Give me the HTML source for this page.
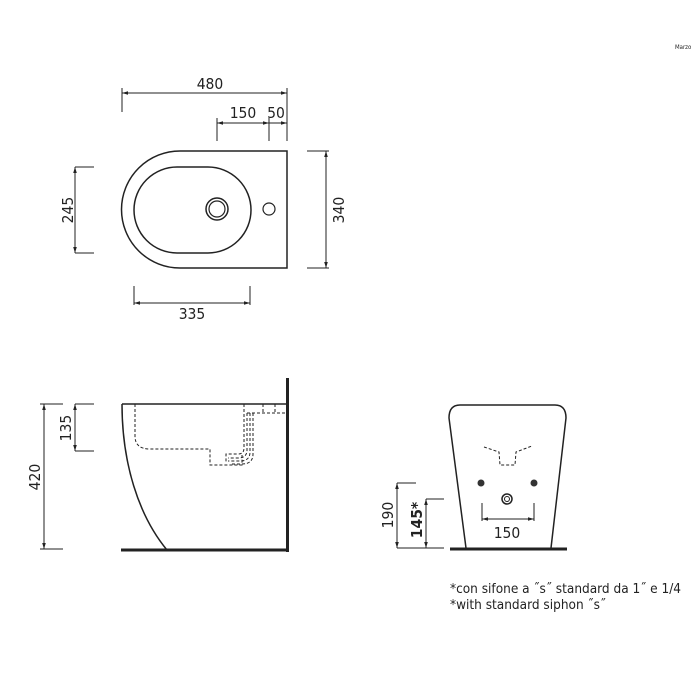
<!DOCTYPE html>
<html><head><style>
html,body{margin:0;padding:0;background:#fff;}
svg{display:block;}
text{font-family:"DejaVu Sans Condensed","Liberation Sans Narrow","Liberation Sans",sans-serif;fill:#222;}
</style></head><body>
<svg width="700" height="700" viewBox="0 0 700 700" xmlns="http://www.w3.org/2000/svg">
<defs>
<marker id="a" viewBox="0 0 10 10" refX="10" refY="5" markerWidth="6" markerHeight="6" orient="auto-start-reverse"><path d="M0,2 L10,5 L0,8 z" fill="#222"/></marker>
</defs>
<g stroke="#222" stroke-width="1" fill="none">
<line x1="122" y1="88" x2="122" y2="112"/>
<line x1="287" y1="88" x2="287" y2="141"/>
<line x1="122" y1="93" x2="287" y2="93" marker-start="url(#a)" marker-end="url(#a)"/>
<line x1="217" y1="118" x2="217" y2="141"/>
<line x1="269" y1="118" x2="269" y2="141"/>
<line x1="217" y1="123" x2="269" y2="123" marker-start="url(#a)" marker-end="url(#a)"/>
<line x1="269" y1="123" x2="287" y2="123" marker-end="url(#a)"/>
<line x1="75" y1="167" x2="94" y2="167"/>
<line x1="75" y1="253" x2="94" y2="253"/>
<line x1="75" y1="167" x2="75" y2="253" marker-start="url(#a)" marker-end="url(#a)"/>
<line x1="307" y1="151" x2="329" y2="151"/>
<line x1="307" y1="268" x2="329" y2="268"/>
<line x1="326" y1="151" x2="326" y2="268" marker-start="url(#a)" marker-end="url(#a)"/>
<line x1="134" y1="286" x2="134" y2="305"/>
<line x1="250" y1="286" x2="250" y2="305"/>
<line x1="134" y1="303" x2="250" y2="303" marker-start="url(#a)" marker-end="url(#a)"/>
<path d="M287,151 H180 A58.5,58.5 0 0 0 180,268 H287 Z" stroke-width="1.5"/>
<rect x="134" y="167" width="117" height="86" rx="43" ry="43" stroke-width="1.5"/>
<circle cx="217" cy="209" r="11" stroke-width="1.5"/>
<circle cx="217" cy="209" r="8" stroke-width="1.2"/>
<circle cx="269" cy="209" r="6" stroke-width="1.2"/>
<line x1="40" y1="404" x2="63" y2="404"/>
<line x1="40" y1="549" x2="63" y2="549"/>
<line x1="44" y1="404" x2="44" y2="549" marker-start="url(#a)" marker-end="url(#a)"/>
<line x1="75" y1="404" x2="94" y2="404"/>
<line x1="75" y1="451" x2="94" y2="451"/>
<line x1="75" y1="404" x2="75" y2="451" marker-start="url(#a)" marker-end="url(#a)"/>
<line x1="122" y1="404" x2="287" y2="404" stroke-width="1.5"/>
<line x1="287.5" y1="378" x2="287.5" y2="552" stroke-width="3"/>
<line x1="121" y1="550" x2="289" y2="550" stroke-width="3"/>
<path d="M122,404 C122,462 138,515 167,550" stroke-width="1.5"/>
<g stroke-dasharray="3,2">
<path d="M135,404 V436 Q135,449 150,449 H210 V465 H242 V455"/>
<path d="M244,404 V448 Q244,454 238,454 H226 V462"/>
<path d="M247,413 V450 Q247,458 238,458 H228"/>
<path d="M250,413 V452 Q250,461 240,461 H228"/>
<path d="M253,413 V454 Q253,464 242,464 H230"/>
<path d="M247,413 H287"/>
<path d="M263,404 V413"/>
<path d="M275,404 V413"/>
</g>
<path d="M466,548 L449,418 Q449,405 460,405 H555 Q566,405 566,418 L551,548" stroke-width="1.5"/>
<line x1="450" y1="549" x2="567" y2="549" stroke-width="3"/>
<path d="M484,447 L499,452 L500,465 L515,465 L516,452 L532,446" stroke-dasharray="3,2"/>
<line x1="482" y1="503" x2="482" y2="521"/>
<line x1="534" y1="503" x2="534" y2="521"/>
<line x1="482" y1="519" x2="534" y2="519" marker-start="url(#a)" marker-end="url(#a)"/>
<line x1="397" y1="483" x2="416" y2="483"/>
<line x1="397" y1="548" x2="444" y2="548"/>
<line x1="397" y1="483" x2="397" y2="548" marker-start="url(#a)" marker-end="url(#a)"/>
<line x1="426" y1="499" x2="444" y2="499"/>
<line x1="426" y1="499" x2="426" y2="548" marker-start="url(#a)" marker-end="url(#a)"/>
<circle cx="507" cy="499" r="5" stroke-width="1.5"/>
<circle cx="507" cy="499" r="2.5"/>
</g>
<circle cx="481" cy="483" r="3.5" fill="#333"/>
<circle cx="534" cy="483" r="3.5" fill="#333"/>
<g font-size="15.5">
<text x="210" y="89" text-anchor="middle">480</text>
<text x="243" y="118" text-anchor="middle">150</text>
<text x="276" y="118" text-anchor="middle">50</text>
<text x="192" y="319" text-anchor="middle">335</text>
<text x="507" y="538" text-anchor="middle">150</text>
<text transform="translate(73,210) rotate(-90)" text-anchor="middle">245</text>
<text transform="translate(344,210) rotate(-90)" text-anchor="middle">340</text>
<text transform="translate(40,477) rotate(-90)" text-anchor="middle">420</text>
<text transform="translate(71,428) rotate(-90)" text-anchor="middle">135</text>
<text transform="translate(393,515) rotate(-90)" text-anchor="middle">190</text>
<text transform="translate(422,520) rotate(-90)" text-anchor="middle" font-weight="bold">145*</text>
</g>
<g font-size="13.5">
<text x="450" y="593">*con sifone a ˝s˝ standard da 1˝ e 1/4</text>
<text x="450" y="609">*with standard siphon ˝s˝</text>
</g>
<text x="675" y="49" font-size="6" fill="#aaa">Marzo</text>
</svg>
</body></html>
